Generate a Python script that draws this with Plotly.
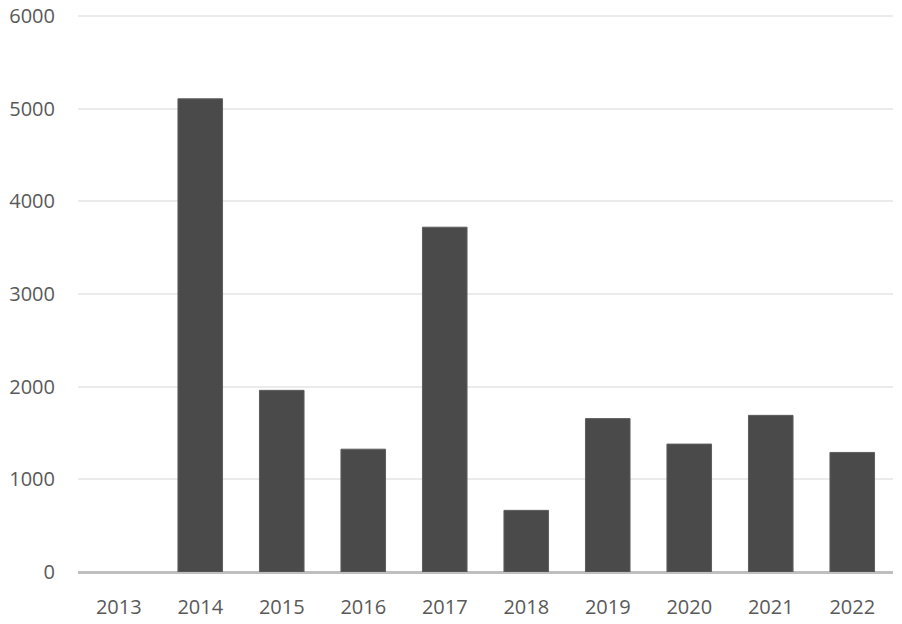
import plotly.graph_objects as go

years = ["2013", "2014", "2015", "2016", "2017", "2018", "2019", "2020", "2021", "2022"]
values = [0, 5105, 1960, 1325, 3720, 665, 1655, 1380, 1690, 1290]
y_ticks = [0, 1000, 2000, 3000, 4000, 5000, 6000]

FONT = "Open Sans, sans-serif"

fig = go.Figure(go.Bar(
    x=years, y=values,
    marker=dict(color="#4a4a4a",
                line=dict(color="#5e5e5e", width=[0 if v == 0 else 1 for v in values])),
))

fig.update_layout(
    width=902, height=624,
    margin=dict(l=78, r=9, t=14, b=52),
    paper_bgcolor="white", plot_bgcolor="white",
    bargap=0.453,
    showlegend=False,
    font=dict(family=FONT, size=20, color="#595959"),
)
fig.update_xaxes(
    type="category", automargin=False,
    showline=False, showgrid=False, ticks="",
    tickfont=dict(family=FONT, size=20, color="#595959"),
    ticklabelstandoff=21,
)
fig.update_yaxes(
    range=[0, 6020], tickvals=y_ticks, automargin=False,
    showgrid=True, gridcolor="#ebebeb", gridwidth=2,
    zeroline=True, zerolinecolor="#bfbfbf", zerolinewidth=3,
    showline=False, ticks="",
    tickfont=dict(family=FONT, size=20, color="#595959"),
    ticklabelstandoff=22,
)

fig.write_html("out.html", config={"displayModeBar": False},
               post_script="document.body.style.margin='0';")
